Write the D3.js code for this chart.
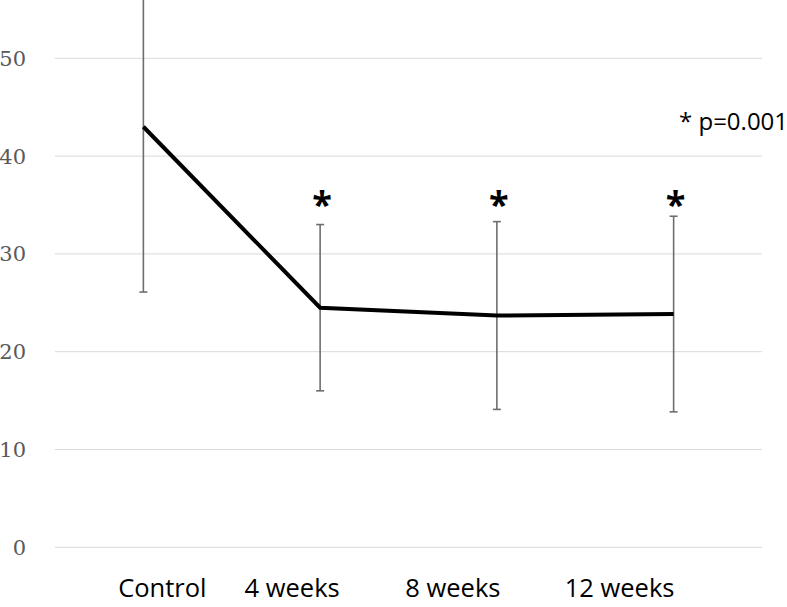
<!DOCTYPE html>
<html>
<head>
<meta charset="utf-8">
<script src="https://cdn.jsdelivr.net/npm/d3@7"></script>
<style>
  html, body { margin: 0; padding: 0; background: #fff; }
  svg { display: block; }
</style>
</head>
<body>
<svg id="chart" width="787" height="607"></svg>
<script>
// ---- data ----
const categories = ["Control", "4 weeks", "8 weeks", "12 weeks"];
const means = [43.0, 24.5, 23.7, 23.85];
const sds = [16.9, 8.5, 9.6, 10.0];
const significant = [false, true, true, true];
const yTicks = [0, 10, 20, 30, 40, 50];
const noteText = "* p=0.001";

// ---- layout ----
const W = 787, H = 607;
const plotLeft = 55, plotRight = 762;
const svg = d3.select("#chart");

const x = d3.scaleBand().domain(categories).range([plotLeft, plotRight]).padding(0);
const y = d3.scaleLinear().domain([0, 50]).range([547.3, 58.3]);
const cx = c => x(c) + x.bandwidth() / 2;

// gridlines
svg.append("g").selectAll("line").data(yTicks).join("line")
  .attr("x1", plotLeft).attr("x2", plotRight)
  .attr("y1", d => y(d)).attr("y2", d => y(d))
  .attr("stroke", "#d9d9d9").attr("stroke-width", 1);

// y tick labels
svg.append("g").selectAll("text").data(yTicks).join("text")
  .attr("x", 26).attr("y", d => y(d))
  .attr("dy", "0.36em")
  .attr("text-anchor", "end")
  .attr("font-family", "'DejaVu Serif', serif")
  .attr("font-size", 21)
  .attr("fill", "#595959")
  .text(d => d);

// x labels (placed as in reference, slightly offset from points)
const labelOffsets = [19, -28, -44, -54];
svg.append("g").selectAll("text").data(categories).join("text")
  .attr("x", (d, i) => cx(d) + labelOffsets[i])
  .attr("y", 597)
  .attr("text-anchor", "middle")
  .attr("font-family", "'Open Sans', sans-serif")
  .attr("font-size", 25.5)
  .attr("fill", "#000")
  .text(d => d);

const pts = categories.map((c, i) => ({ c, m: means[i], s: sds[i], sig: significant[i] }));

// error bars
const eb = svg.append("g").attr("stroke", "#6e6e6e").attr("stroke-width", 1.6);
eb.selectAll("line.v").data(pts).join("line").attr("class", "v")
  .attr("x1", d => cx(d.c)).attr("x2", d => cx(d.c))
  .attr("y1", d => y(d.m + d.s)).attr("y2", d => y(d.m - d.s));
eb.selectAll("line.top").data(pts).join("line").attr("class", "top")
  .attr("x1", d => cx(d.c) - 4).attr("x2", d => cx(d.c) + 4)
  .attr("y1", d => y(d.m + d.s)).attr("y2", d => y(d.m + d.s));
eb.selectAll("line.bot").data(pts).join("line").attr("class", "bot")
  .attr("x1", d => cx(d.c) - 4).attr("x2", d => cx(d.c) + 4)
  .attr("y1", d => y(d.m - d.s)).attr("y2", d => y(d.m - d.s));

// mean line
svg.append("path").datum(pts)
  .attr("fill", "none").attr("stroke", "#000").attr("stroke-width", 4)
  .attr("stroke-linejoin", "miter")
  .attr("d", d3.line().x(d => cx(d.c)).y(d => y(d.m)));

// significance asterisks
svg.append("g").selectAll("text").data(pts.filter(d => d.sig)).join("text")
  .attr("x", d => cx(d.c) + 2)
  .attr("y", y(35.5) + 17)
  .attr("text-anchor", "middle")
  .attr("font-family", "'Open Sans', sans-serif")
  .attr("font-weight", "bold")
  .attr("font-size", 36)
  .attr("fill", "#000")
  .text("*");

// note
svg.append("text")
  .attr("x", 679).attr("y", 130)
  .attr("font-family", "'Open Sans', sans-serif")
  .attr("font-size", 24)
  .attr("fill", "#000")
  .text(noteText);
</script>
</body>
</html>
